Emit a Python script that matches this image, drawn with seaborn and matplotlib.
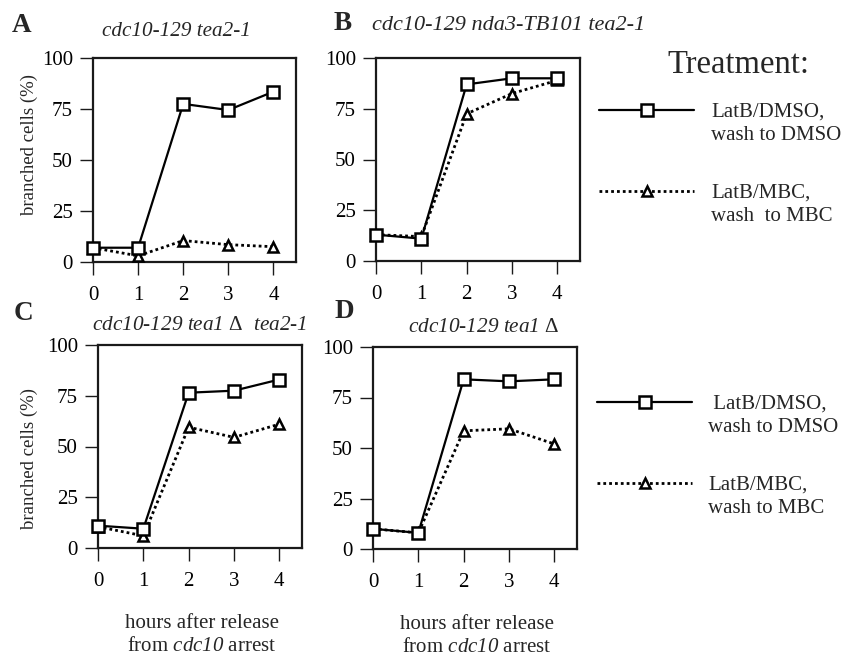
import numpy as np
import pandas as pd
import matplotlib
matplotlib.use("Agg")
import matplotlib.pyplot as plt
import seaborn as sns
from matplotlib.legend_handler import HandlerLine2D

# ---------------- data ----------------
hours = [0, 1, 2, 3, 4]
treatments = ["LatB/DMSO", "LatB/MBC"]

a_dmso = [7, 7, 77.5, 74.5, 83.5]
a_mbc = [7, 3, 10.5, 8.5, 7.5]
b_dmso = [13, 11, 87, 90, 90]
b_mbc = [13, 12, 72.5, 82.5, 89]
c_dmso = [11, 9.5, 76.5, 77.5, 83]
c_mbc = [10.5, 6, 59.5, 54.5, 61]
d_dmso = [10, 8, 84, 83, 84]
d_mbc = [10, 8, 58.5, 59.5, 52]

panel_letters = ["A", "B", "C", "D"]
panel_titles = ["cdc10-129 tea2-1", "cdc10-129 nda3-TB101 tea2-1",
                "cdc10-129 tea1 $\\mathsf{\\Delta}$  tea2-1", "cdc10-129 tea1 $\\mathsf{\\Delta}$"]
yticks = [0, 25, 50, 75, 100]
xticks = [0, 1, 2, 3, 4]
ylabel = "branched cells (%)"
xlabel = "hours after release\nfrom $\\mathrm{cdc10}$ arrest"
legend_title = "Treatment:"
legend_labels_b = ["LatB/DMSO,\nwash to DMSO", "LatB/MBC,\nwash  to MBC"]
legend_labels_d = [" LatB/DMSO,\nwash to DMSO", "LatB/MBC,\nwash to MBC"]

# ---------------- style ----------------
sns.set_theme(style="ticks")
plt.rcParams["font.family"] = ["Liberation Serif", "DejaVu Serif"]
plt.rcParams["mathtext.fontset"] = "custom"
plt.rcParams["mathtext.rm"] = "Liberation Serif:italic"
plt.rcParams["mathtext.it"] = "Liberation Serif:italic"
plt.rcParams["mathtext.sf"] = "Liberation Serif"
plt.rcParams["axes.linewidth"] = 1.6
plt.rcParams["axes.edgecolor"] = "#1a1a1a"

W, H = 846, 658
fig = plt.figure(figsize=(W / 100, H / 100), dpi=100)


def px_axes(left, top, right, bottom):
    return fig.add_axes([left / W, 1 - bottom / H, (right - left) / W, (bottom - top) / H])


axes_px = [(93, 58, 296, 262), (376, 58, 580, 261), (98, 345, 302, 548), (373, 347, 577, 549)]
data_sets = [(a_dmso, a_mbc), (b_dmso, b_mbc), (c_dmso, c_mbc), (d_dmso, d_mbc)]

axes = []
for i, (box, (dm, mb)) in enumerate(zip(axes_px, data_sets)):
    ax = px_axes(*box)
    axes.append(ax)
    df_mbc = pd.DataFrame({"hour": hours, "pct": mb})
    df_dmso = pd.DataFrame({"hour": hours, "pct": dm})
    sns.lineplot(data=df_mbc, x="hour", y="pct", ax=ax, color="black",
                 linestyle=(0, (1, 1.1)), linewidth=2.0, marker="^",
                 markersize=7.5, markerfacecolor="white", markeredgecolor="black",
                 markeredgewidth=1.8, clip_on=False, zorder=3)
    sns.lineplot(data=df_dmso, x="hour", y="pct", ax=ax, color="black",
                 linestyle="-", linewidth=1.6, marker="s",
                 markersize=8.5, markerfacecolor="white", markeredgecolor="black",
                 markeredgewidth=1.8, clip_on=False, zorder=4)
    ax.set_xlim(0, 4.5)
    ax.set_ylim(0, 100)
    ax.set_xticks(xticks)
    ax.set_yticks(yticks)
    ax.tick_params(axis="both", which="major", length=9.5, width=1.0,
                   color="#1a1a1a", labelsize=15, labelcolor="black")
    ax.tick_params(axis="x", pad=8)
    ax.tick_params(axis="y", pad=5)
    for s in ax.spines.values():
        s.set_visible(True)
        s.set_linewidth(1.6)
    ax.set_xlabel("")
    ax.set_ylabel("")
    ax.set_facecolor("white")

# y labels (A and C)
axes[0].set_ylabel(ylabel, fontsize=13.5)
axes[0].yaxis.set_label_coords(-0.27, 0.574)
axes[2].set_ylabel(ylabel, fontsize=13.5)
axes[2].yaxis.set_label_coords(-0.295, 0.44)

# x labels (C and D)
for ax in (axes[2], axes[3]):
    ax.set_xlabel(xlabel, fontsize=15, linespacing=1.3)
    ax.xaxis.set_label_coords(0.51, -0.325)

# panel letters and titles
letter_pos = [(12, 26), (334, 23), (14, 314), (334, 311)]
for (x, y), L in zip(letter_pos, panel_letters):
    fig.text(x / W, 1 - y / H, L, fontsize=19.5, fontweight="bold", va="center", ha="left")

fig.text(176 / W, 1 - 32 / H, panel_titles[0], fontsize=15.2, style="italic", ha="center", va="center")
fig.text(372 / W, 1 - 25 / H, panel_titles[1], fontsize=16, style="italic", ha="left", va="center")
fig.text(92 / W, 1 - 325 / H, panel_titles[2], fontsize=15.3, style="italic", ha="left", va="center")
fig.text(408 / W, 1 - 328 / H, panel_titles[3], fontsize=15.3, style="italic", ha="left", va="center")

fig.text(667 / W, 1 - 65 / H, legend_title, fontsize=23.5, ha="left", va="center")


class TopHandler(HandlerLine2D):
    def __init__(self, shift=0, **kw):
        super().__init__(**kw)
        self.shift = shift

    def create_artists(self, legend, orig_handle, xdescent, ydescent, width, height, fontsize, trans):
        return super().create_artists(legend, orig_handle, xdescent, ydescent - self.shift,
                                      width, height, fontsize, trans)


def add_legend(ax, labels, left, top, textpad):
    lines = ax.get_lines()
    mbc_line, dmso_line = lines[0], lines[1]
    handles = [dmso_line, mbc_line]
    hm = {h: TopHandler(shift=20) for h in handles}
    leg = fig.legend(handles, labels, loc="upper left",
                     bbox_to_anchor=(left / W, 1 - top / H), bbox_transform=fig.transFigure,
                     frameon=False, fontsize=15, handlelength=4.56, handletextpad=textpad,
                     borderpad=0, borderaxespad=0, labelspacing=1.85, numpoints=1,
                     handler_map=hm)
    for t in leg.get_texts():
        t.set_linespacing(1.3)
    return leg


add_legend(axes[1], legend_labels_b, 599, 103, 0.82)
add_legend(axes[3], legend_labels_d, 597, 395, 0.77)

fig.savefig("out.png", dpi=100, facecolor="white")
